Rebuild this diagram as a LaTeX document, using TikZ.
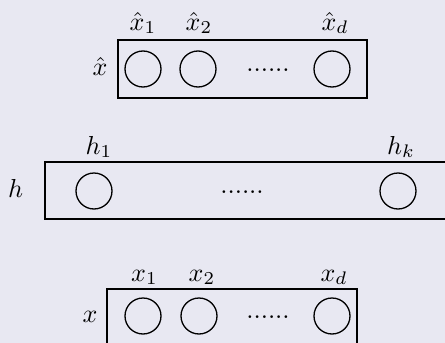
\documentclass[tikz,border=0pt]{standalone}
\begin{document}
\begin{tikzpicture}[x=1pt,y=-1pt,
  unit/.style={draw,circle,line width=1.3pt,minimum size=36pt,inner sep=0pt},
  layer/.style={draw,line width=2pt},
  lbl/.style={scale=2.6,inner sep=0pt,anchor=base},
  dots/.style={scale=2.6,inner sep=0pt,anchor=base}]
\definecolor{bg}{RGB}{232,232,242}
\fill[bg] (0,0) rectangle (445,343);
\useasboundingbox (0,0) rectangle (445,343);
% top layer
\draw[layer] (118,40) rectangle (367,98);
\node[unit] (t1) at (143,69) {};
\node[unit] (t2) at (198,69) {};
\node[unit] (td) at (332,69) {};
\node[dots] (tdots) at (268,71) {......};
\node[lbl] (tl1) at (143,30) {$\hat{x}_1$};
\node[lbl] (tl2) at (199,30) {$\hat{x}_2$};
\node[lbl] (tld) at (335,30) {$\hat{x}_d$};
\node[lbl] (tx) at (100,75) {$\hat{x}$};
% middle layer
\draw[layer] (45,162) rectangle (450,219);
\node[unit] (m1) at (94,191) {};
\node[unit] (mk) at (398,191) {};
\node[dots] (mdots) at (242,193) {......};
\node[lbl] (ml1) at (99,154) {$h_1$};
\node[lbl] (mlk) at (401,154) {$h_k$};
\node[lbl] (mh) at (15.5,197) {$h$};
% bottom layer
\draw[layer] (107,289) rectangle (357,350);
\node[unit] (b1) at (143,316) {};
\node[unit] (b2) at (199,316) {};
\node[unit] (bd) at (332,316) {};
\node[dots] (bdots) at (268,318) {......};
\node[lbl] (bl1) at (144.5,281) {$x_1$};
\node[lbl] (bl2) at (202,281) {$x_2$};
\node[lbl] (bld) at (334,281) {$x_d$};
\node[lbl] (bx) at (90,322) {$x$};
\end{tikzpicture}
\end{document}
